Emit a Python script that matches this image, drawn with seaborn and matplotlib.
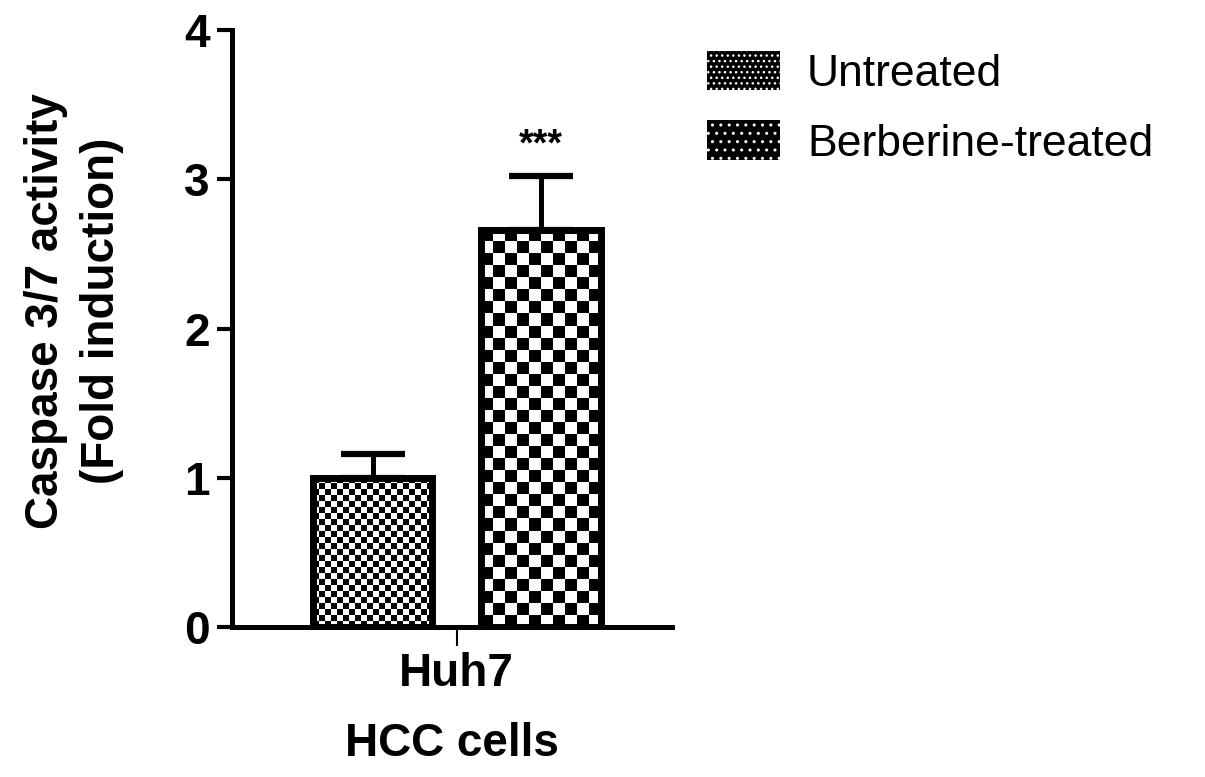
import numpy as np
import pandas as pd
import matplotlib
matplotlib.use('Agg')
import matplotlib.pyplot as plt
from matplotlib.patches import Patch
import seaborn as sns

# data
cells = ['Huh7', 'Huh7']
groups = ['Untreated', 'Berberine-treated']
means = [1.0, 2.66]
sems = [0.16, 0.36]
signif = ['', '***']

df = pd.DataFrame({'cell': cells, 'group': groups, 'fold': means})

sns.set_style('ticks')
plt.rcParams['font.family'] = ['Liberation Sans', 'DejaVu Sans']
for k in ['text.color', 'axes.labelcolor', 'xtick.color', 'ytick.color', 'axes.edgecolor']:
    plt.rcParams[k] = 'black'

fig = plt.figure(figsize=(12.05, 7.77), dpi=100)
ax = fig.add_axes([0.1925, 0.193, 0.365, 0.7684])

sns.barplot(data=df, x='cell', y='fold', hue='group', width=0.765, gap=0.29,
            palette=['white', 'white'], edgecolor='black', linewidth=5,
            legend=False, ax=ax)
ax.set_xlim(-0.511, 0.489)
ax.set_ylim(0, 4)

# checkerboard fill of each bar (fine for untreated, coarse for treated)
check_px = [6, 12]
bars = [p for p in ax.patches][:2]
for bar, cpx in zip(bars, check_px):
    bar.set_facecolor('none')
    bar.set_zorder(3)
    x0, y0 = bar.get_x(), bar.get_y()
    w, h = bar.get_width(), bar.get_height()
    (px0, py0), (px1, py1) = ax.transData.transform([(x0, y0), (x0 + w, y0 + h)])
    nx = max(int(round((px1 - px0) / cpx)), 1)
    ny = max(int(round((py1 - py0) / cpx)), 1)
    board = (np.add.outer(np.arange(ny), np.arange(nx)) % 2).astype(float)
    im = ax.imshow(board, cmap='gray', vmin=0, vmax=1, interpolation='nearest',
                   extent=[x0, x0 + w, y0, y0 + h], origin='lower', aspect='auto', zorder=2)
    im.set_clip_path(bar)

# upward-only error bars
xs = [b.get_x() + b.get_width() / 2 for b in bars]
ax.errorbar(xs, means, yerr=[np.zeros(len(sems)), sems], fmt='none', ecolor='black',
            elinewidth=3.6, capsize=23, capthick=4.5, zorder=1)
for x, m, s, lab in zip(xs, means, sems, signif):
    ax.text(x, m + s + 0.14, lab, ha='center', va='baseline', fontsize=27, fontweight='bold')

ax.set_xlim(-0.511, 0.489)
ax.set_ylim(0, 4)
ax.set_yticks([0, 1, 2, 3, 4])
sns.despine(ax=ax)
for sp in ['left', 'bottom']:
    ax.spines[sp].set_linewidth(3.6)
ax.tick_params(axis='y', length=11, width=3, pad=5, labelsize=33)
ax.tick_params(axis='x', length=14, width=1.5, pad=4, labelsize=33)
for t in ax.get_xticklabels() + ax.get_yticklabels():
    t.set_fontweight('bold')

ax.set_xlabel('HCC cells', fontsize=33, fontweight='bold', labelpad=19)
ax.set_ylabel('Caspase 3/7 activity\n(Fold induction)', fontsize=33, fontweight='bold',
              linespacing=1.35)
ax.yaxis.set_label_coords(-0.245, 0.53)

handles = [Patch(facecolor='black', edgecolor='white', linewidth=0, hatch='...', label=groups[0]),
           Patch(facecolor='black', edgecolor='white', linewidth=0, hatch='..', label=groups[1])]
fig.legend(handles=handles, loc='upper left', bbox_to_anchor=(0.5867, 0.935), frameon=False,
           fontsize=32, handlelength=1.65, handleheight=1.0, handletextpad=0.6,
           labelspacing=0.58, borderpad=0, borderaxespad=0)

fig.savefig('out.png', dpi=100)
